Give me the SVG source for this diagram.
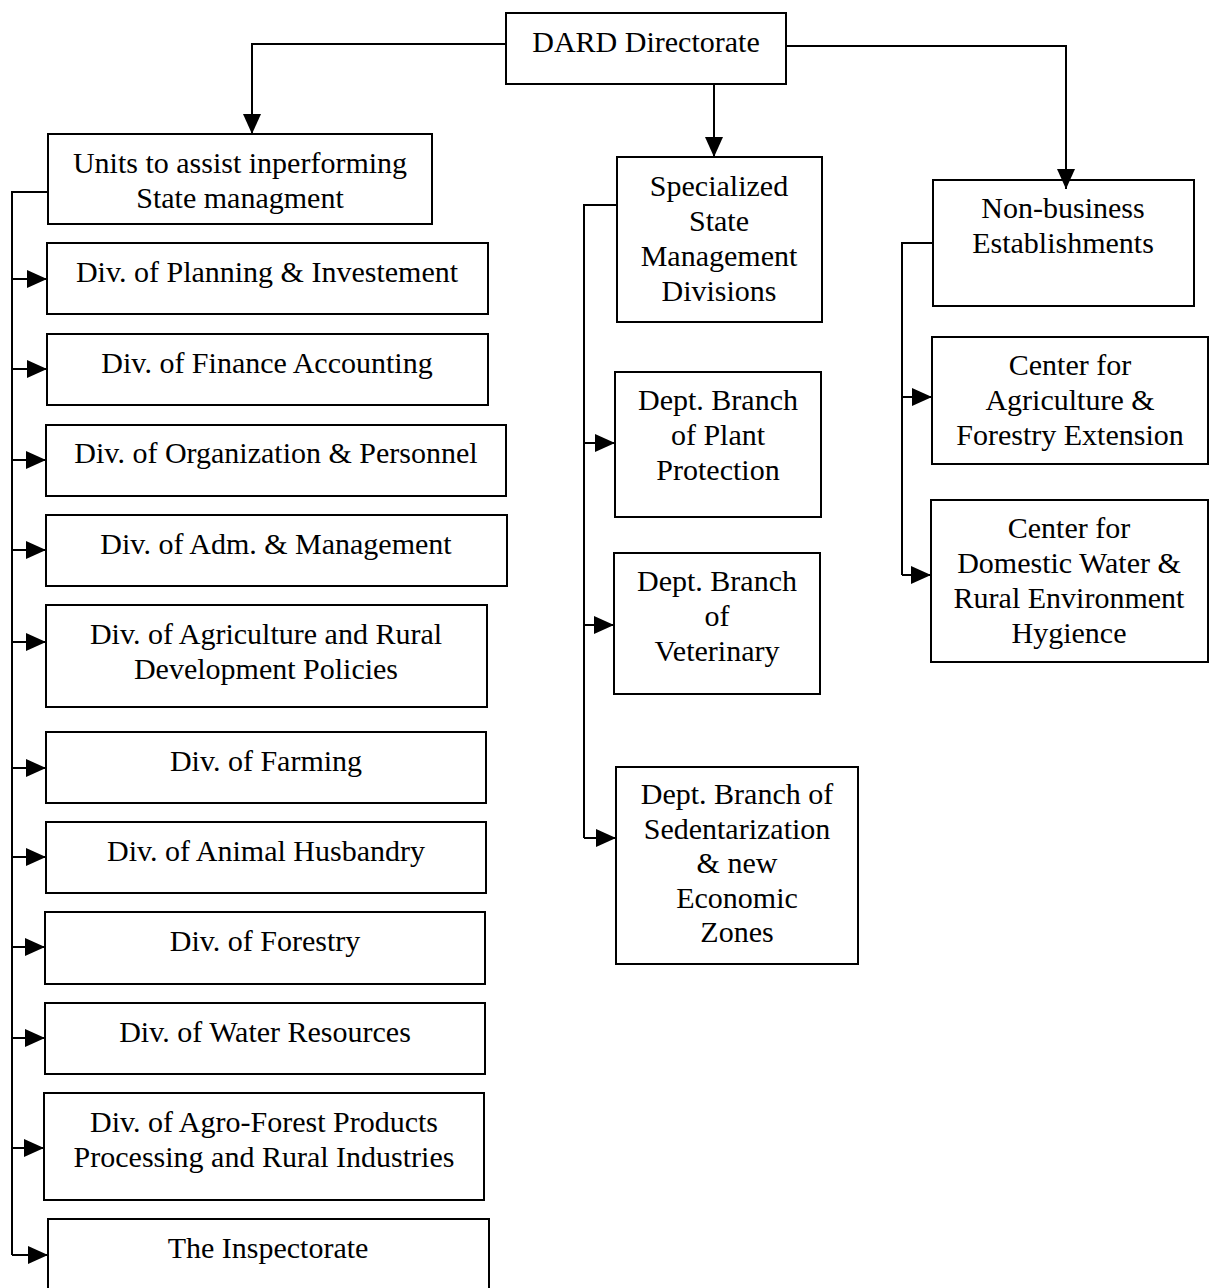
<svg xmlns="http://www.w3.org/2000/svg" width="1209" height="1288" viewBox="0 0 1209 1288">
<defs>
<marker id="arr" markerUnits="userSpaceOnUse" markerWidth="20" markerHeight="18" refX="20" refY="9" orient="auto">
<path d="M0,0 L20,9 L0,18 z" fill="#000"/>
</marker>
<style>
.box{fill:#fff;stroke:#000;stroke-width:2}
.t{font-family:"Liberation Serif","Times New Roman",serif;font-size:30px;fill:#000;text-anchor:middle}
.c{fill:none;stroke:#000;stroke-width:2}
</style>
</defs>
<rect width="1209" height="1288" fill="#fff"/>
<g id="dard"><rect class="box" x="506" y="13" width="280" height="71"/><text class="t" x="646" y="52">DARD Directorate</text></g>
<g id="units"><rect class="box" x="48" y="134" width="384" height="90"/><text class="t" x="240" y="173">Units to assist inperforming</text><text class="t" x="240" y="208">State managment</text></g>
<g id="planning"><rect class="box" x="47" y="243" width="441" height="71"/><text class="t" x="267" y="282">Div. of Planning &amp; Investement</text></g>
<g id="finance"><rect class="box" x="47" y="334" width="441" height="71"/><text class="t" x="267" y="373">Div. of Finance Accounting</text></g>
<g id="organization"><rect class="box" x="46" y="425" width="460" height="71"/><text class="t" x="276" y="463">Div. of Organization &amp; Personnel</text></g>
<g id="adm"><rect class="box" x="46" y="515" width="461" height="71"/><text class="t" x="276" y="554">Div. of Adm. &amp; Management</text></g>
<g id="policies"><rect class="box" x="46" y="605" width="441" height="102"/><text class="t" x="266" y="644">Div. of Agriculture and Rural</text><text class="t" x="266" y="679">Development Policies</text></g>
<g id="farming"><rect class="box" x="46" y="732" width="440" height="71"/><text class="t" x="266" y="771">Div. of Farming</text></g>
<g id="animal"><rect class="box" x="46" y="822" width="440" height="71"/><text class="t" x="266" y="861">Div. of Animal Husbandry</text></g>
<g id="forestry"><rect class="box" x="45" y="912" width="440" height="72"/><text class="t" x="265" y="951">Div. of Forestry</text></g>
<g id="water"><rect class="box" x="45" y="1003" width="440" height="71"/><text class="t" x="265" y="1042">Div. of Water Resources</text></g>
<g id="agroforest"><rect class="box" x="44" y="1093" width="440" height="107"/><text class="t" x="264" y="1132">Div. of Agro-Forest Products</text><text class="t" x="264" y="1167">Processing and Rural Industries</text></g>
<g id="inspectorate"><rect class="box" x="48" y="1219" width="441" height="90"/><text class="t" x="268" y="1258">The Inspectorate</text></g>
<g id="specialized"><rect class="box" x="617" y="157" width="205" height="165"/><text class="t" x="719" y="196">Specialized</text><text class="t" x="719" y="231">State</text><text class="t" x="719" y="266">Management</text><text class="t" x="719" y="301">Divisions</text></g>
<g id="plant"><rect class="box" x="615" y="372" width="206" height="145"/><text class="t" x="718" y="410">Dept. Branch</text><text class="t" x="718" y="445">of Plant</text><text class="t" x="718" y="480">Protection</text></g>
<g id="veterinary"><rect class="box" x="614" y="553" width="206" height="141"/><text class="t" x="717" y="591">Dept. Branch</text><text class="t" x="717" y="626">of</text><text class="t" x="717" y="661">Veterinary</text></g>
<g id="sedentarization"><rect class="box" x="616" y="767" width="242" height="197"/><text class="t" x="737" y="804">Dept. Branch of</text><text class="t" x="737" y="839">Sedentarization</text><text class="t" x="737" y="873">&amp; new</text><text class="t" x="737" y="908">Economic</text><text class="t" x="737" y="942">Zones</text></g>
<g id="nonbusiness"><rect class="box" x="933" y="180" width="261" height="126"/><text class="t" x="1063" y="218">Non-business</text><text class="t" x="1063" y="253">Establishments</text></g>
<g id="extension"><rect class="box" x="932" y="337" width="276" height="127"/><text class="t" x="1070" y="375">Center for</text><text class="t" x="1070" y="410">Agriculture &amp;</text><text class="t" x="1070" y="445">Forestry Extension</text></g>
<g id="domestic"><rect class="box" x="931" y="500" width="277" height="162"/><text class="t" x="1069" y="538">Center for</text><text class="t" x="1069" y="573">Domestic Water &amp;</text><text class="t" x="1069" y="608">Rural Environment</text><text class="t" x="1069" y="643">Hygience</text></g>
<g id="connectors">
<path class="c" d="M506,44 H252 V134" marker-end="url(#arr)"/>
<path class="c" d="M714,84 V157" marker-end="url(#arr)"/>
<path class="c" d="M786,46 H1066 V189" marker-end="url(#arr)"/>
<path class="c" d="M48,192 H12 V1255"/>
<path class="c" d="M12,279 H47" marker-end="url(#arr)"/>
<path class="c" d="M12,369 H47" marker-end="url(#arr)"/>
<path class="c" d="M12,460 H46" marker-end="url(#arr)"/>
<path class="c" d="M12,550 H46" marker-end="url(#arr)"/>
<path class="c" d="M12,642 H46" marker-end="url(#arr)"/>
<path class="c" d="M12,768 H46" marker-end="url(#arr)"/>
<path class="c" d="M12,857 H46" marker-end="url(#arr)"/>
<path class="c" d="M12,947 H45" marker-end="url(#arr)"/>
<path class="c" d="M12,1038 H45" marker-end="url(#arr)"/>
<path class="c" d="M12,1148 H44" marker-end="url(#arr)"/>
<path class="c" d="M12,1255 H48" marker-end="url(#arr)"/>
<path class="c" d="M617,205 H584 V838"/>
<path class="c" d="M584,443 H615" marker-end="url(#arr)"/>
<path class="c" d="M584,625 H614" marker-end="url(#arr)"/>
<path class="c" d="M584,838 H616" marker-end="url(#arr)"/>
<path class="c" d="M933,243 H902 V575"/>
<path class="c" d="M902,397 H932" marker-end="url(#arr)"/>
<path class="c" d="M902,575 H931" marker-end="url(#arr)"/>
</g>
</svg>
